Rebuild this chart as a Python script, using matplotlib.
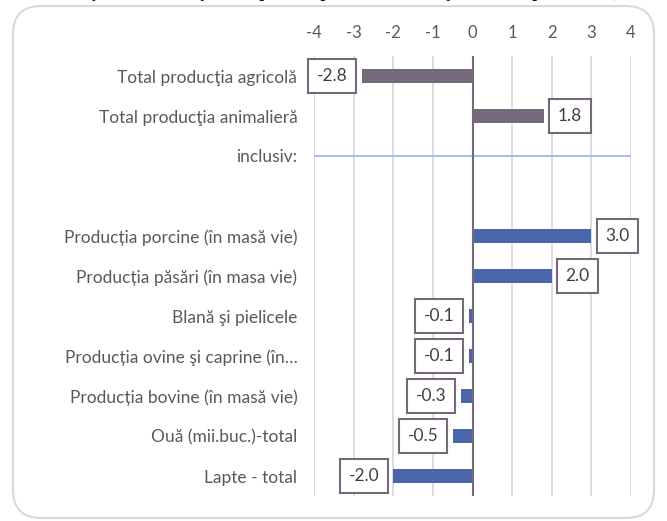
import matplotlib
matplotlib.use("Agg")
import matplotlib.pyplot as plt
from matplotlib.patches import FancyBboxPatch

plt.rcParams['font.family'] = ['Lato', 'DejaVu Sans']

categories = ["Total producţia agricolă", "Total producţia animalieră", "inclusiv:", "",
              "Producția porcine (în masă vie)", "Producția păsări (în masa vie)",
              "Blană şi pielicele", "Producția ovine şi caprine (în…",
              "Producția bovine (în masă vie)", "Ouă (mii.buc.)-total", "Lapte - total"]
total_values = [-2.8, 1.8]
detail_values = [3.0, 2.0, -0.1, -0.1, -0.3, -0.5, -2.0]
x_ticks = [-4, -3, -2, -1, 0, 1, 2, 3, 4]
title = "(creşterea/descreşterea; puncte procentuale, faţă de anul precedent)"

total_pos = [0, 1]
separator_pos = 2
detail_pos = list(range(4, 11))

fig = plt.figure(figsize=(6.67, 5.21), dpi=100)

# rounded chart border
border = FancyBboxPatch((0.13, 0.03), 6.41, 5.12, boxstyle="round,pad=0,rounding_size=0.28",
                        transform=fig.dpi_scale_trans, facecolor="none",
                        edgecolor="#D9D9D9", linewidth=1.5, zorder=-1)
fig.patches.append(border)

# title sits above the picture, only its lower part is visible
fig.text(339 / 667, 1 + 4 / 521, title, ha="center", va="baseline",
         fontsize=15, family="Liberation Serif", color="black")

ax = fig.add_axes([314 / 667, 25 / 521, 317 / 667, 440 / 521])
ax.set_facecolor("none")

ax.barh(total_pos, total_values, height=0.35, color="#76697A", zorder=3)
ax.barh(detail_pos, detail_values, height=0.35, color="#4A66AC", zorder=3)
ax.hlines(separator_pos, x_ticks[0], x_ticks[-1], color="#8AB6F5", linewidth=1.2, zorder=3)
ax.axvline(0, color="#76697A", linewidth=1.5, zorder=4)

for pos, val in list(zip(total_pos, total_values)) + list(zip(detail_pos, detail_values)):
    off = 10 if val > 0 else -10
    ax.annotate(f"{val:.1f}", (val, pos), xytext=(off, 0), textcoords="offset points",
                ha="left" if val > 0 else "right", va="center", fontsize=12.5,
                color="#404040", zorder=5,
                bbox=dict(boxstyle="square,pad=0.5", facecolor="white",
                          edgecolor="#76687A", linewidth=1.5))

ax.set_xlim(-4, 4)
ax.set_ylim(10.5, -0.5)
ax.set_xticks(x_ticks)
ax.set_xticklabels([str(t) for t in x_ticks])
ax.set_yticks(range(len(categories)))
ax.set_yticklabels(categories)
ax.xaxis.tick_top()
ax.tick_params(axis="x", length=0, pad=11, labelsize=12, labelcolor="#595959")
ax.tick_params(axis="y", length=0, pad=12, labelsize=12.5, labelcolor="#595959")
ax.grid(axis="x", color="#D9D9D9", linewidth=1.3, zorder=1)
for s in ax.spines.values():
    s.set_visible(False)

fig.savefig("out.png", dpi=100)
